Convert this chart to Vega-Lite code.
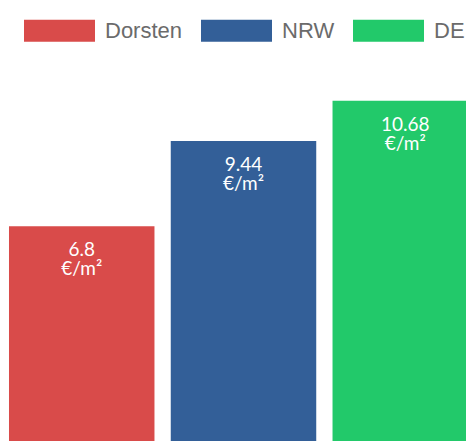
{
  "$schema": "https://vega.github.io/schema/vega-lite/v6.json",
  "width": 466,
  "height": 441,
  "autosize": {"type": "none"},
  "padding": 0,
  "background": "white",
  "config": {"view": {"stroke": null}},
  "data": {"values": [
    {"region": "Dorsten", "value": 6.8, "label": ["6.8", "€/m²"]},
    {"region": "NRW", "value": 9.44, "label": ["9.44", "€/m²"]},
    {"region": "DE", "value": 10.68, "label": ["10.68", "€/m²"]}
  ]},
  "encoding": {
    "x": {"field": "region", "type": "nominal", "sort": null, "axis": null,
          "scale": {"range": [0, 487], "paddingInner": 0.1007, "paddingOuter": 0.0556}},
    "y": {"field": "value", "type": "quantitative", "axis": null,
          "scale": {"domain": [0, 13.8], "nice": false, "range": [446, 0]}}
  },
  "layer": [
    {
      "mark": {"type": "bar"},
      "encoding": {
        "color": {
          "field": "region", "type": "nominal", "sort": null,
          "scale": {"domain": ["Dorsten", "NRW", "DE"], "range": ["#D94B4A", "#335F98", "#22C96A"]},
          "legend": {
            "orient": "none", "legendX": 24, "legendY": -5, "direction": "horizontal",
            "title": null,
            "symbolType": "M-1,-0.31H1V0.31H-1Z", "symbolSize": 5041,
            "symbolStrokeWidth": 0, "symbolOpacity": 1,
            "labelFont": "Liberation Sans", "labelFontSize": 22, "labelColor": "#6b6b6b",
            "labelOffset": 10, "columnPadding": 18, "padding": 0
          }
        }
      }
    },
    {
      "mark": {"type": "text", "baseline": "alphabetic", "dy": 30, "lineHeight": 19.2, "color": "white", "font": "Lato", "fontSize": 19},
      "encoding": {"text": {"field": "label", "type": "nominal"}}
    }
  ]
}
